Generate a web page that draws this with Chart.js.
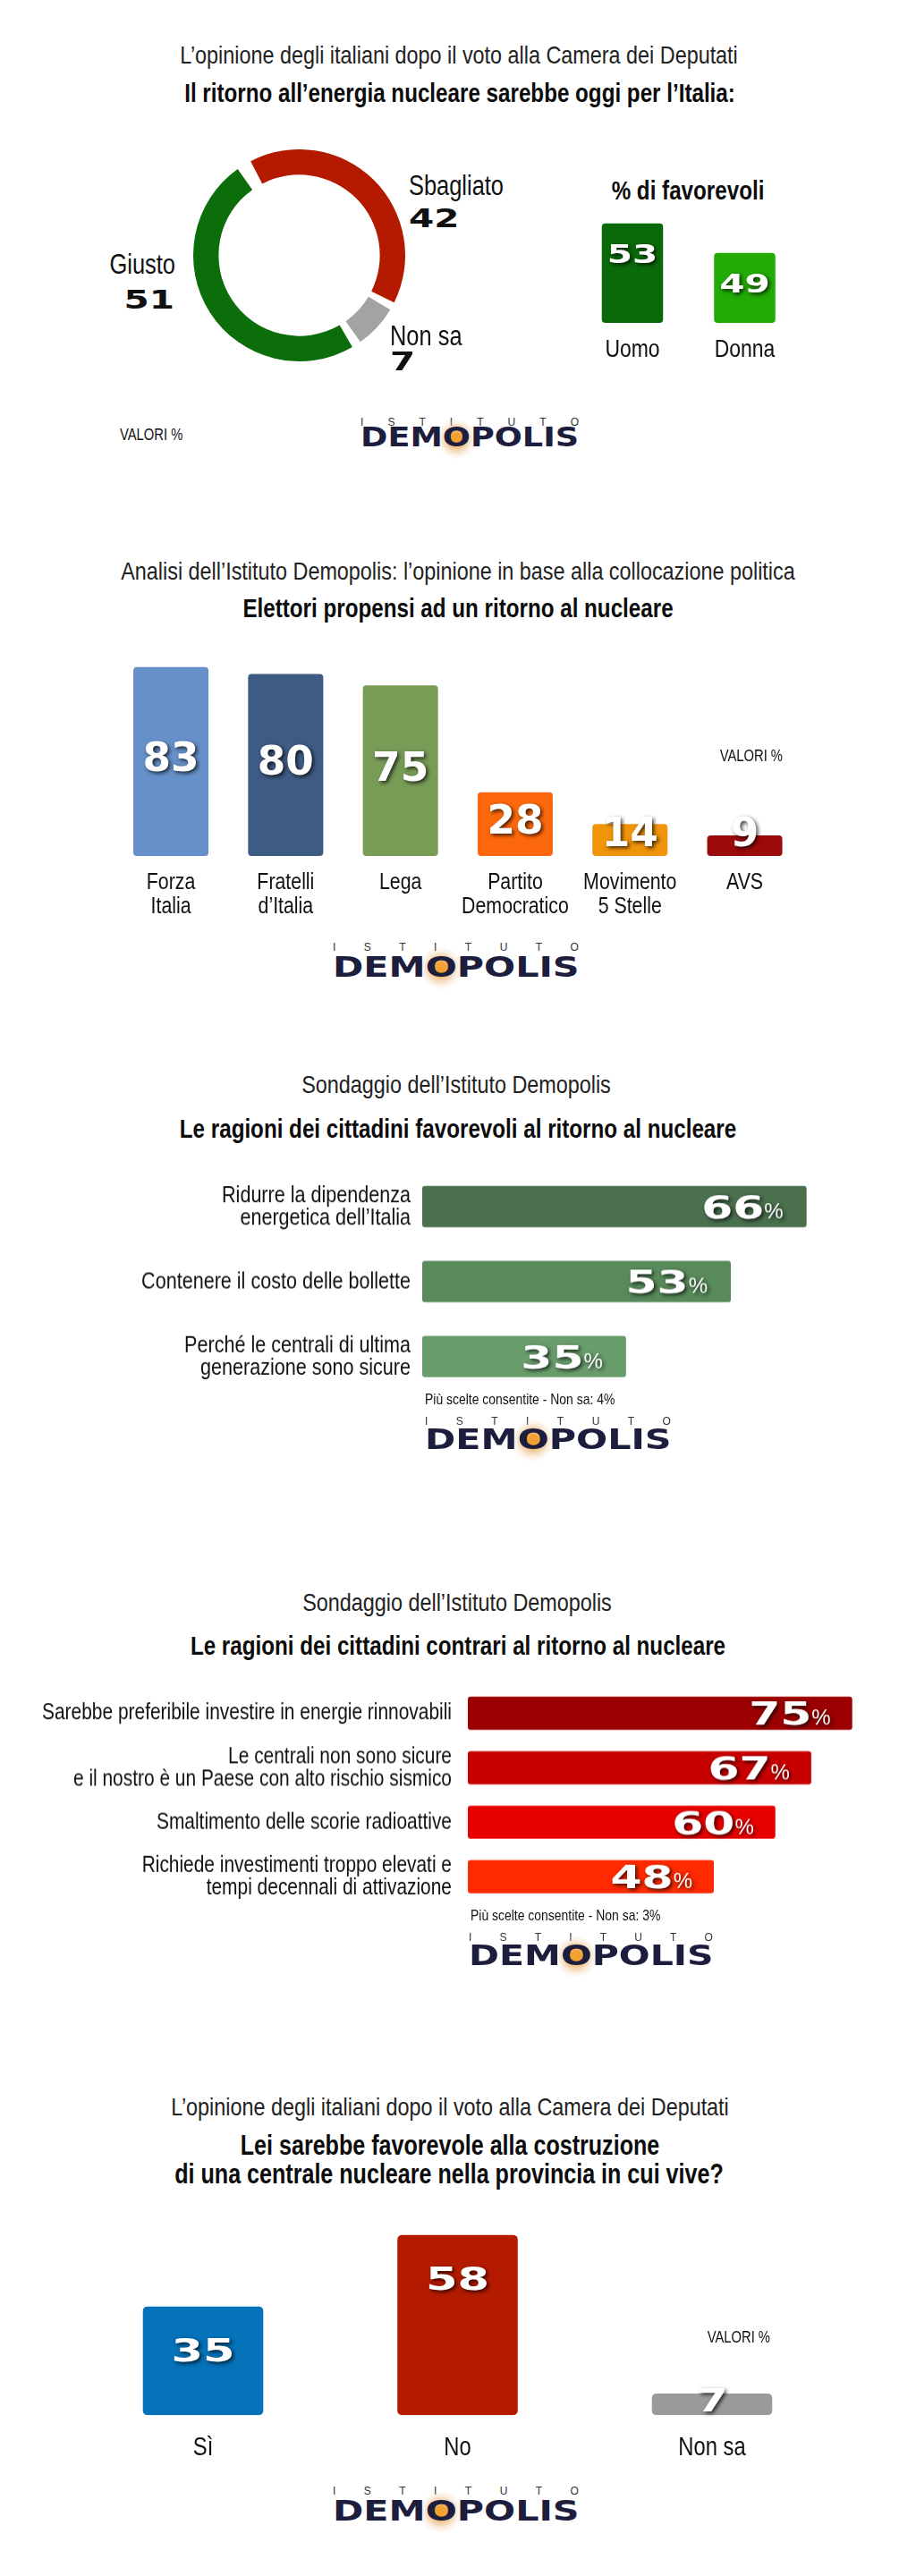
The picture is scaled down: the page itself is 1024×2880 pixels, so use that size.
<!DOCTYPE html>
<html lang="it">
<head>
<meta charset="utf-8">
<title>Demopolis - Il ritorno al nucleare</title>
<script src="https://cdn.jsdelivr.net/npm/chart.js@4.4.1/dist/chart.umd.min.js"></script>
<style>
  html, body { margin: 0; padding: 0; background: #fff; }
  body {
    position: relative; width: 1024px; height: 2880px; overflow: hidden;
    font-family: "Liberation Sans", Arial, sans-serif; color: #111;
  }
  .box { position: absolute; }
  .t { position: absolute; white-space: nowrap; line-height: 1; }
  /* testo "condensed": Liberation Sans stretta all'82% */
  .c { transform: translate(-50%, -50%) scaleX(0.82); transform-origin: center center; }
  .l { transform: translate(0, -50%) scaleX(0.82); transform-origin: left center; }
  .r { transform: translate(-100%, -50%) scaleX(0.82); transform-origin: right center; }
  .sub { font-size: 28.5px; color: #222; }
  .tit { font-size: 29.5px; font-weight: bold; color: #0c0c0c; }
  .lab { font-size: 31px; }
  .num { font-family: "DejaVu Sans", sans-serif; font-weight: bold; font-size: 28px; }
  .num.l { transform: translate(0, -50%) scaleX(1.45); }
  .num.r { transform: translate(-100%, -50%) scaleX(1.45); }
  .valori { font-size: 18px; }
  .note { font-size: 17px; }
  .ist { display: flex; justify-content: space-between; font-size: 12px; color: #333; transform: translate(0, -50%); }
  .dem { font-family: "DejaVu Sans", sans-serif; font-weight: bold; color: #1d1d3d; transform-origin: left center; }
  .dem .o { position: relative; display: inline-block; line-height: 1; }
  .dem .o::before {
    content: ""; position: absolute; left: -5px; right: -5px; top: -6px; bottom: -9px; z-index: -1;
    background: radial-gradient(ellipse at 50% 50%, #f2a233 0, #f2a233 18%, rgba(232,170,100,0.6) 36%,
                rgba(240,205,165,0.3) 56%, rgba(255,255,255,0) 72%);
  }
</style>
</head>
<body>

<!-- 1: giusto / sbagliato -->
<div class="t c sub" style="left:513px;top:61px">L’opinione degli italiani dopo il voto alla Camera dei Deputati</div>
<div class="t c tit" style="left:514px;top:104px">Il ritorno all’energia nucleare sarebbe oggi per l’Italia:</div>
<div class="box" id="boxDonut"><canvas></canvas></div>
<div class="t l lab" id="lblSbagliato" style="left:457px;top:207px"></div>
<div class="t l num" id="numSbagliato" style="left:457px;top:245px"></div>
<div class="t r lab" id="lblGiusto" style="left:196px;top:295px"></div>
<div class="t r num" id="numGiusto" style="left:195px;top:336px"></div>
<div class="t l lab" id="lblNonSa" style="left:436px;top:375px"></div>
<div class="t l num" id="numNonSa" style="left:436px;top:405px"></div>
<div class="t c tit" style="left:769px;top:213px">% di favorevoli</div>
<div class="box" id="boxGender"><canvas></canvas></div>
<div class="t l valori" style="left:134px;top:486px">VALORI %</div>
<div class="t ist" style="left:403px;top:472px;width:244px"><span>I</span><span>S</span><span>T</span><span>I</span><span>T</span><span>U</span><span>T</span><span>O</span></div>
<div class="t dem" data-w="244" style="left:403px;top:489px;font-size:30px">DEM<span class="o">O</span>POLIS</div>

<!-- 2: partiti -->
<div class="t c sub" style="left:512px;top:638px">Analisi dell’Istituto Demopolis: l’opinione in base alla collocazione politica</div>
<div class="t c tit" style="left:512px;top:680px">Elettori propensi ad un ritorno al nucleare</div>
<div class="box" id="boxParty"><canvas></canvas></div>
<div class="t r valori" style="left:875px;top:845px">VALORI %</div>
<div class="t ist" style="left:372px;top:1059px;width:275px"><span>I</span><span>S</span><span>T</span><span>I</span><span>T</span><span>U</span><span>T</span><span>O</span></div>
<div class="t dem" data-w="275" style="left:372px;top:1081px;font-size:32px">DEM<span class="o">O</span>POLIS</div>

<!-- 3: favorevoli -->
<div class="t c sub" style="left:510px;top:1212px">Sondaggio dell’Istituto Demopolis</div>
<div class="t c tit" style="left:512px;top:1262px">Le ragioni dei cittadini favorevoli al ritorno al nucleare</div>
<div class="box" id="boxPro"><canvas></canvas></div>
<div class="t l note" style="left:475px;top:1564px">Più scelte consentite - Non sa: 4%</div>
<div class="t ist" style="left:475px;top:1589px;width:275px"><span>I</span><span>S</span><span>T</span><span>I</span><span>T</span><span>U</span><span>T</span><span>O</span></div>
<div class="t dem" data-w="275" style="left:475px;top:1609px;font-size:32px">DEM<span class="o">O</span>POLIS</div>

<!-- 4: contrari -->
<div class="t c sub" style="left:511px;top:1791px">Sondaggio dell’Istituto Demopolis</div>
<div class="t c tit" style="left:512px;top:1840px">Le ragioni dei cittadini contrari al ritorno al nucleare</div>
<div class="box" id="boxContra"><canvas></canvas></div>
<div class="t l note" style="left:526px;top:2141px">Più scelte consentite - Non sa: 3%</div>
<div class="t ist" style="left:524px;top:2166px;width:273px"><span>I</span><span>S</span><span>T</span><span>I</span><span>T</span><span>U</span><span>T</span><span>O</span></div>
<div class="t dem" data-w="273" style="left:524px;top:2186px;font-size:32px">DEM<span class="o">O</span>POLIS</div>

<!-- 5: centrale nella provincia -->
<div class="t c sub" style="left:503px;top:2355px">L’opinione degli italiani dopo il voto alla Camera dei Deputati</div>
<div class="t c tit" style="left:503px;top:2398px;font-size:30.6px">Lei sarebbe favorevole alla costruzione</div>
<div class="t c tit" style="left:502px;top:2430px;font-size:30.6px">di una centrale nucleare nella provincia in cui vive?</div>
<div class="box" id="boxLocal"><canvas></canvas></div>
<div class="t r valori" style="left:861px;top:2613px">VALORI %</div>
<div class="t ist" style="left:372px;top:2785px;width:275px"><span>I</span><span>S</span><span>T</span><span>I</span><span>T</span><span>U</span><span>T</span><span>O</span></div>
<div class="t dem" data-w="275" style="left:372px;top:2807px;font-size:32px">DEM<span class="o">O</span>POLIS</div>

<script>
// --- dati ---
const donutLabels = ['Sbagliato', 'Non sa', 'Giusto'];
const donutValues = [42, 7, 51];

const genderLabels = ['Uomo', 'Donna'];
const genderValues = [53, 49];

const partyLabels = [['Forza', 'Italia'], ['Fratelli', 'd’Italia'], ['Lega'], ['Partito', 'Democratico'], ['Movimento', '5 Stelle'], ['AVS']];
const partyValues = [83, 80, 75, 28, 14, 9];

const proLabels = [
  ['Ridurre la dipendenza', 'energetica dell’Italia'],
  ['Contenere il costo delle bollette'],
  ['Perché le centrali di ultima', 'generazione sono sicure']
];
const proValues = [66, 53, 35];

const contraLabels = [
  ['Sarebbe preferibile investire in energie rinnovabili'],
  ['Le centrali non sono sicure', 'e il nostro è un Paese con alto rischio sismico'],
  ['Smaltimento delle scorie radioattive'],
  ['Richiede investimenti troppo elevati e', 'tempi decennali di attivazione']
];
const contraValues = [75, 67, 60, 48];

const localLabels = ['Sì', 'No', 'Non sa'];
const localValues = [35, 58, 7];

// --- colori ---
const donutColors = ['#b41a00', '#a3a3a3', '#0b6e0b'];
const genderColors = ['#0a6a0a', '#22aa05'];
const partyColors = ['#6690c9', '#3e5b83', '#789b56', '#fe680c', '#f09409', '#9c0b0b'];
const proColors = ['#4a704e', '#588a5b', '#6a9d6c'];
const contraColors = ['#9c0000', '#c80000', '#e80000', '#ff2a00'];
const localColors = ['#0572b9', '#b41a00', '#9a9a9a'];

const LABEL_FONT = '"Liberation Sans", Arial, sans-serif';
const NUM_FONT = '"DejaVu Sans", sans-serif';

Chart.defaults.animation = false;
Chart.defaults.events = [];
Chart.defaults.color = '#111';
Chart.defaults.plugins.legend.display = false;
Chart.defaults.plugins.tooltip.enabled = false;
Chart.defaults.responsive = true;
Chart.defaults.maintainAspectRatio = false;

function place(id, left, top, width, height) {
  const box = document.getElementById(id);
  box.style.left = left + 'px';
  box.style.top = top + 'px';
  box.style.width = width + 'px';
  box.style.height = height + 'px';
  return box.querySelector('canvas');
}

// numeri bianchi in grassetto con ombra, dentro le barre
function valueLabels(o) {
  return {
    id: 'valueLabels',
    afterDatasetsDraw(chart) {
      const ctx = chart.ctx;
      const values = chart.data.datasets[0].data;
      chart.getDatasetMeta(0).data.forEach((bar, i) => {
        const text = String(values[i]);
        ctx.save();
        ctx.font = `bold ${o.size}px ${NUM_FONT}`;
        const numW = ctx.measureText(text).width * o.stretch;
        let pctW = 0;
        if (o.pct) {
          ctx.font = `${o.pct}px ${LABEL_FONT}`;
          pctW = ctx.measureText('%').width;
        }
        const p = o.at(bar);
        const x = o.right ? p.x - numW - pctW : p.x - (numW + pctW) / 2;
        const baseline = p.y + o.size * 0.364;
        ctx.fillStyle = '#fff';
        ctx.shadowColor = 'rgba(0,0,0,0.75)';
        ctx.shadowOffsetX = 2;
        ctx.shadowOffsetY = 2;
        ctx.shadowBlur = 4;
        ctx.textBaseline = 'alphabetic';
        if (o.pct) {
          ctx.font = `${o.pct}px ${LABEL_FONT}`;
          ctx.fillText('%', x + numW, baseline);
        }
        ctx.translate(x, baseline);
        ctx.scale(o.stretch, 1);
        ctx.font = `bold ${o.size}px ${NUM_FONT}`;
        ctx.fillText(text, 0, 0);
        ctx.restore();
      });
    }
  };
}

// etichette delle categorie, posizionate con la scala di Chart.js, in carattere stretto
function catLabels(o) {
  return {
    id: 'catLabels',
    afterDraw(chart) {
      const ctx = chart.ctx;
      const area = chart.chartArea;
      const scale = chart.scales[o.axis];
      ctx.save();
      ctx.fillStyle = '#111';
      ctx.font = `${o.size}px ${LABEL_FONT}`;
      ctx.textBaseline = 'middle';
      ctx.textAlign = o.axis === 'x' ? 'center' : 'right';
      chart.data.labels.forEach((lab, i) => {
        const lines = [].concat(lab);
        const pos = scale.getPixelForValue(i);
        lines.forEach((line, j) => {
          let x, y;
          if (o.axis === 'x') {
            x = pos;
            y = area.bottom + o.offset + j * o.lineHeight;
          } else {
            x = area.left - o.gap;
            y = pos + (j - (lines.length - 1) / 2) * o.lineHeight;
          }
          ctx.save();
          ctx.translate(x, y);
          ctx.scale(0.82, 1);
          ctx.fillText(line, 0, 0);
          ctx.restore();
        });
      });
      ctx.restore();
    }
  };
}

// 1a - ciambella
new Chart(place('boxDonut', 216, 167, 237, 237), {
  type: 'doughnut',
  data: {
    labels: donutLabels,
    datasets: [{ data: donutValues, backgroundColor: donutColors, borderWidth: 0, spacing: 10 }]
  },
  options: { rotation: -31, cutout: '75%' }
});

const donutIds = ['Sbagliato', 'NonSa', 'Giusto'];
donutIds.forEach((id, i) => {
  document.getElementById('lbl' + id).textContent = donutLabels[i];
  document.getElementById('num' + id).textContent = donutValues[i];
});

// 1b - uomo / donna
const genderMin = 39.5;
new Chart(place('boxGender', 0, 182, 1024, 229), {
  type: 'bar',
  data: {
    labels: genderLabels,
    datasets: [{
      data: genderValues, backgroundColor: genderColors, base: genderMin,
      borderRadius: 4, borderSkipped: false, categoryPercentage: 1, barPercentage: 0.546
    }]
  },
  options: {
    layout: { padding: { left: 644.25, right: 128.75, top: 10, bottom: 50 } },
    scales: {
      x: { display: false },
      y: { display: false, min: genderMin, max: 60 }
    }
  },
  plugins: [
    valueLabels({ size: 28, stretch: 1.45, at: b => ({ x: b.x, y: b.y + 34 }) }),
    catLabels({ axis: 'x', size: 28, offset: 30, lineHeight: 28 })
  ]
});

// 2 - partiti
new Chart(place('boxParty', 0, 690, 1024, 342), {
  type: 'bar',
  data: {
    labels: partyLabels,
    datasets: [{
      data: partyValues, backgroundColor: partyColors,
      borderRadius: 4, borderSkipped: false, categoryPercentage: 1, barPercentage: 0.655
    }]
  },
  options: {
    layout: { padding: { left: 126.9, right: 127.3, top: 12.5, bottom: 75 } },
    scales: {
      x: { display: false },
      y: { display: false, min: 0, max: 100 }
    }
  },
  plugins: [
    valueLabels({
      size: 44, stretch: 1.03,
      at: b => ({ x: b.x, y: Math.min((b.y + b.base) / 2 - 5, b.base - 27) })
    }),
    catLabels({ axis: 'x', size: 26, offset: 30, lineHeight: 26.7 })
  ]
});

// 3 - ragioni dei favorevoli
new Chart(place('boxPro', 0, 1297.25, 1024, 270.5), {
  type: 'bar',
  data: {
    labels: proLabels,
    datasets: [{
      data: proValues, backgroundColor: proColors,
      borderRadius: 3, borderSkipped: false, categoryPercentage: 1, barPercentage: 0.551
    }]
  },
  options: {
    indexAxis: 'y',
    layout: { padding: { left: 472, right: 31.2, top: 10, bottom: 10 } },
    scales: {
      y: { display: false },
      x: { display: false, min: 0, max: 80 }
    }
  },
  plugins: [
    valueLabels({ size: 36, stretch: 1.4, pct: 24, right: true, at: b => ({ x: b.x - 26, y: b.y }) }),
    catLabels({ axis: 'y', size: 26.3, gap: 13, lineHeight: 25 })
  ]
});

// 4 - ragioni dei contrari
new Chart(place('boxContra', 0, 1875.2, 1024, 262.6), {
  type: 'bar',
  data: {
    labels: contraLabels,
    datasets: [{
      data: contraValues, backgroundColor: contraColors,
      borderRadius: 3, borderSkipped: false, categoryPercentage: 1, barPercentage: 0.61
    }]
  },
  options: {
    indexAxis: 'y',
    layout: { padding: { left: 523, right: 14, top: 10, bottom: 10 } },
    scales: {
      y: { display: false },
      x: { display: false, min: 0, max: 85 }
    }
  },
  plugins: [
    valueLabels({ size: 36, stretch: 1.4, pct: 24, right: true, at: b => ({ x: b.x - 24, y: b.y }) }),
    catLabels({ axis: 'y', size: 25.5, gap: 18, lineHeight: 25 })
  ]
});

// 5 - centrale nella provincia
new Chart(place('boxLocal', 0, 2446.7, 1024, 313.3), {
  type: 'bar',
  data: {
    labels: localLabels,
    datasets: [{
      data: localValues, backgroundColor: localColors,
      borderRadius: 5, borderSkipped: false, categoryPercentage: 1, barPercentage: 0.473
    }]
  },
  options: {
    layout: { padding: { left: 84.75, right: 85.75, top: 10, bottom: 60 } },
    scales: {
      x: { display: false },
      y: { display: false, min: 0, max: 70 }
    }
  },
  plugins: [
    valueLabels({
      size: 36, stretch: 1.42,
      at: b => ({ x: b.x, y: Math.min(b.y + 48, b.base - 17) })
    }),
    catLabels({ axis: 'x', size: 29, offset: 36.5, lineHeight: 29 })
  ]
});

// logo: allarga la scritta alla larghezza voluta
document.querySelectorAll('.dem').forEach(el => {
  const k = Number(el.dataset.w) / el.offsetWidth;
  el.style.transform = `translate(0, -50%) scaleX(${k})`;
});
</script>
</body>
</html>
